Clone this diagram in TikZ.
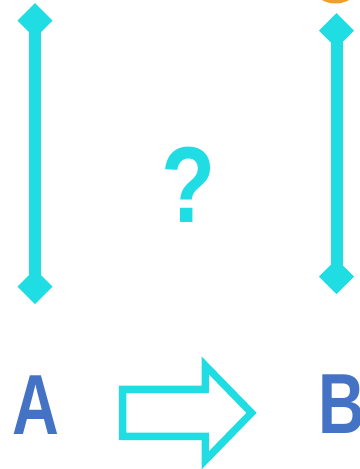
\documentclass[tikz,border=0pt]{standalone}
\usepackage{fontspec}
\setmainfont{Liberation Sans}
\usepackage{tikz}
\usetikzlibrary{arrows.meta,positioning}
\definecolor{cyanline}{RGB}{31,221,227}
\definecolor{letterblue}{RGB}{68,114,196}
\definecolor{dotorange}{RGB}{240,160,42}

\begin{document}
\begin{tikzpicture}[x=0.75pt,y=-0.75pt,
    >={Diamond[length=26.25pt,width=26.25pt]},
    bar/.style={draw=cyanline, line width=9pt},
    letter/.style={text=letterblue, inner sep=0pt, xscale=0.76, transform shape,
        font=\fontsize{64pt}{64pt}\selectfont\bfseries}]
        \clip (0,0) rectangle (360,469);
        \fill[dotorange] (335.5,-25) circle (28.5);
        % the two bars
        \coordinate (ltop) at (35,3);
        \coordinate (lbot) at (35,304);
        \coordinate (rtop) at (336.5,13);
        \coordinate (rbot) at (336.5,294);
        \draw[bar, <->, cyanline] (ltop) -- (lbot);
        \draw[bar, <->, cyanline] (rtop) -- (rbot);
        \node[text=cyanline, inner sep=0pt, xscale=0.82, transform shape,
            font=\fontsize{81pt}{81pt}\selectfont\bfseries] (quest) at (189,184.5) {?};
        % from A to B
        \node[letter] (A) at (35.6,405.5) {A};
        \node[letter, anchor=west] (B) at (318,404) {B};
        \draw[cyanline, line width=5.5pt, line join=miter]
            (122.65,389.35) -- (205.3,389.35) -- (205.3,365.5) -- (251.5,412.85)
            -- (205.3,460.2) -- (205.3,436.35) -- (122.65,436.35) -- cycle;
\end{tikzpicture}
\end{document}
